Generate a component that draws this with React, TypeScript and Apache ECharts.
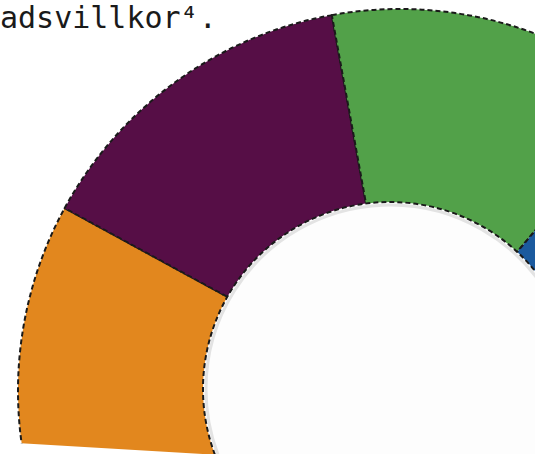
import React, { useEffect, useRef } from "react";
import * as echarts from "echarts";

const categories = ["Kategori A", "Kategori B", "Kategori C", "Kategori D", "Övriga"];
const values = [14.0, 14.2, 14.0, 25.0, 32.8];
const sliceColors = ["#E2871E", "#560E46", "#52A149", "#1B5A9E", "#9A9A9A"];
const headingText = "adsvillkor⁴.";

export default function App() {
  const ref = useRef<HTMLDivElement>(null);

  useEffect(() => {
    if (!ref.current) return;
    const chart = echarts.init(ref.current, null, { renderer: "svg" });
    const data = categories.map((name, i) => ({
      name,
      value: values[i],
      itemStyle: { color: sliceColors[i] },
    }));
    chart.setOption({
      animation: false,
      backgroundColor: "#ffffff",
      series: [
        {
          type: "pie",
          center: [400, 391],
          radius: [0, 382],
          startAngle: 201.8,
          clockwise: true,
          silent: true,
          label: { show: false },
          labelLine: { show: false },
          emphasis: { disabled: true },
          itemStyle: {
            borderColor: "#1a1a1a",
            borderWidth: 2,
            borderType: [5, 3],
          },
          data,
        },
      ],
      graphic: [
        {
          type: "circle",
          z: 100,
          silent: true,
          shape: { cx: 390, cy: 389, r: 187 },
          style: {
            fill: "#fdfdfd",
            stroke: "#1a1a1a",
            lineWidth: 2,
            lineDash: [5, 3],
          },
        },
        {
          type: "circle",
          z: 101,
          silent: true,
          shape: { cx: 390, cy: 389, r: 184 },
          style: {
            fill: "none",
            stroke: "rgba(0,0,0,0.10)",
            lineWidth: 3,
          },
        },
        {
          type: "polygon",
          z: 102,
          silent: true,
          shape: {
            points: [
              [0, 441.9],
              [320, 461],
              [0, 480],
            ],
          },
          style: { fill: "#ffffff" },
        },
        {
          type: "text",
          z: 103,
          silent: true,
          x: 0,
          y: 17.5,
          style: {
            text: headingText,
            fontSize: 30,
            fontFamily: "DejaVu Sans Mono",
            fill: "#1a1a1a",
            verticalAlign: "middle",
            align: "left",
          },
        },
      ],
    });
    return () => chart.dispose();
  }, []);

  return (
    <div
      ref={ref}
      style={{
        position: "absolute",
        left: 0,
        top: 0,
        width: 535,
        height: 454,
        background: "#ffffff",
      }}
    />
  );
}
